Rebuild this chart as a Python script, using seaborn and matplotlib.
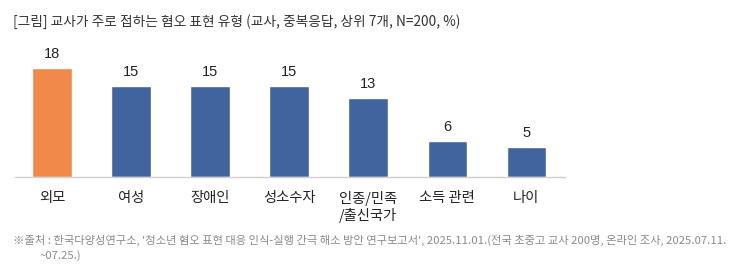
import matplotlib
matplotlib.use("Agg")
import matplotlib.pyplot as plt
import seaborn as sns
import pandas as pd

categories = ["외모", "여성", "장애인", "성소수자", "인종/민족\n/출신국가", "소득 관련", "나이"]
values = [18, 15, 15, 15, 13, 6, 5]
colors = ["#F0894A", "#41649E", "#41649E", "#41649E", "#41649E", "#41649E", "#41649E"]
title = "[그림] 교사가 주로 접하는 혐오 표현 유형 (교사, 중복응답, 상위 7개, N=200, %)"
source_lines = [
    "※출처 : 한국다양성연구소, '청소년 혐오 표현 대응 인식-실행 간극 해소 방안 연구보고서', 2025.11.01.(전국 초중고 교사 200명, 온라인 조사, 2025.07.11.",
    "~07.25.)",
]

sns.set_theme(style="white")
plt.rcParams['font.family'] = ['Noto Sans CJK KR', 'DejaVu Sans']

df = pd.DataFrame({"cat": categories, "val": values})

fig = plt.figure(figsize=(7.35, 2.71), dpi=100)
ax = fig.add_axes([15/735, 94/271, 550/735, 121/271])
sns.barplot(data=df, x="cat", y="val", hue="cat", palette=colors, legend=False,
            width=0.5, saturation=1, ax=ax)
ax.set_xlim(-0.47, 6.49)
ax.set_ylim(0, 20)
for c in ax.containers:
    ax.bar_label(c, fmt="%d", padding=5, fontsize=10.5, color="#222222",
                 family=['Liberation Sans', 'DejaVu Sans'])
ax.set_xlabel("")
ax.set_ylabel("")
ax.set_yticks([])
for s in ["top", "left", "right"]:
    ax.spines[s].set_visible(False)
ax.spines["bottom"].set_color("#d0d0d0")
ax.spines["bottom"].set_linewidth(1)
ax.tick_params(axis="x", length=0, pad=10, labelsize=10.3, labelcolor="#222222")

fig.text(13/735, 1 - 22/271, title, fontsize=9.85, color="#333333", va="center", ha="left")
fig.text(13/735, 1 - 240/271, source_lines[0], fontsize=8.15, color="#8a8a8a", va="center", ha="left")
fig.text(40/735, 1 - 256/271, source_lines[1], fontsize=8.15, color="#8a8a8a", va="center", ha="left")

fig.savefig("out.png", dpi=100)
